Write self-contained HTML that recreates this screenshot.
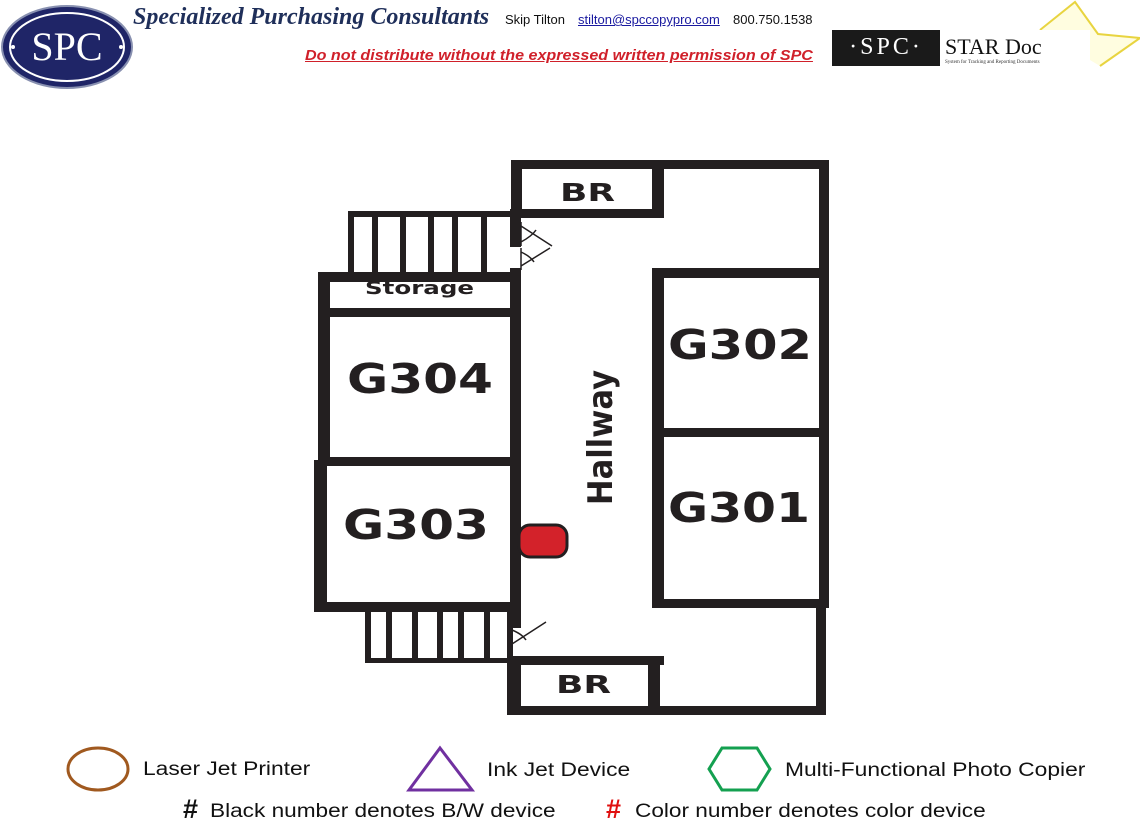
<!DOCTYPE html>
<html><head><meta charset="utf-8"><style>
body{margin:0;background:#fff;width:1140px;height:828px;overflow:hidden;position:relative;font-family:"Liberation Sans",sans-serif}
.a{position:absolute;white-space:nowrap;transform-origin:0 0}
</style></head><body>
<svg width="1140" height="828" style="position:absolute;left:0;top:0">
<ellipse cx="67" cy="47" rx="65" ry="41" fill="#1f2567" stroke="#8890b0" stroke-width="2"/>
<ellipse cx="67" cy="47" rx="57" ry="34" fill="none" stroke="#fff" stroke-width="2"/>
<text x="67" y="60" font-family="Liberation Serif" font-size="40" fill="#fff" text-anchor="middle">SPC</text>
<circle cx="13" cy="47" r="2" fill="#fff"/><circle cx="121" cy="47" r="2" fill="#fff"/>
<polyline points="1040,30 1075,2 1098,34 1140,38 1100,66" fill="#fffde0" stroke="#e8d440" stroke-width="2"/>
<rect x="832" y="30" width="108" height="36" fill="#1a1a1a"/>
<rect x="940" y="30" width="150" height="36" fill="#fff"/>
<text x="886" y="54" font-family="Liberation Serif" font-size="24" fill="#fff" text-anchor="middle" letter-spacing="3">·SPC·</text>
<text x="945" y="54" font-family="Liberation Serif" font-size="22" fill="#111">STAR Doc</text>
<text x="945" y="63" font-family="Liberation Serif" font-size="5" fill="#333">System for Tracking and Reporting Documents</text>

<g fill="#231f20">
<rect x="511" y="160" width="317" height="9"/>
<rect x="511" y="160" width="11" height="58"/>
<rect x="652" y="160" width="12" height="58"/>
<rect x="511" y="209" width="153" height="9"/>
<rect x="819" y="160" width="10" height="120"/>
<rect x="652" y="268" width="177" height="10"/>
<rect x="652" y="268" width="12" height="340"/>
<rect x="819" y="268" width="10" height="340"/>
<rect x="652" y="428" width="177" height="9"/>
<rect x="652" y="599" width="177" height="9"/>
<rect x="816" y="599" width="10" height="116"/>
<rect x="507" y="706" width="319" height="9"/>
<rect x="507" y="656" width="157" height="9"/>
<rect x="507" y="656" width="14" height="59"/>
<rect x="648" y="656" width="12" height="59"/>
<rect x="510" y="209" width="11" height="38"/>
<rect x="510" y="268" width="11" height="360"/>
<rect x="348" y="211" width="170" height="6"/>
<rect x="348" y="211" width="6" height="64"/>
<rect x="372" y="211" width="6" height="64"/><rect x="400" y="211" width="6" height="64"/>
<rect x="428" y="211" width="6" height="64"/><rect x="452" y="211" width="6" height="64"/>
<rect x="481" y="211" width="6" height="64"/>
<rect x="318" y="272" width="203" height="10"/>
<rect x="318" y="272" width="12" height="190"/>
<rect x="318" y="308" width="203" height="9"/>
<rect x="318" y="457" width="203" height="9"/>
<rect x="314" y="460" width="13" height="152"/>
<rect x="314" y="602" width="205" height="10"/>
<rect x="365" y="610" width="6" height="53"/><rect x="386" y="610" width="6" height="53"/>
<rect x="412" y="610" width="6" height="53"/><rect x="437" y="610" width="6" height="53"/>
<rect x="458" y="610" width="6" height="53"/><rect x="484" y="610" width="6" height="53"/>
<rect x="365" y="658" width="148" height="5"/>
<rect x="507" y="610" width="6" height="53"/>
</g>
<g stroke="#231f20" stroke-width="1.5" fill="none">
<path d="M521 222 V246 M521 226 L552 246 M521 242 Q532 236 536 230"/>
<path d="M521 248 V270 M521 266 L550 248 M521 252 Q530 256 534 262"/>
<path d="M512 625 V648 M512 644 L546 622 M512 630 Q522 634 526 640"/>
</g>
<rect x="519" y="525" width="48" height="32" rx="11" fill="#d3222a" stroke="#231f20" stroke-width="3"/>
<g font-family="DejaVu Sans" font-weight="bold" fill="#231f20">
<text x="560" y="201" font-size="25" textLength="55" lengthAdjust="spacingAndGlyphs">BR</text>
<text x="556" y="693" font-size="25" textLength="55" lengthAdjust="spacingAndGlyphs">BR</text>
<text x="365" y="294" font-size="18" textLength="109" lengthAdjust="spacingAndGlyphs">Storage</text>
<text x="347" y="393" font-size="41" textLength="146" lengthAdjust="spacingAndGlyphs">G304</text>
<text x="343" y="539" font-size="41" textLength="146" lengthAdjust="spacingAndGlyphs">G303</text>
<text x="668" y="359" font-size="41" textLength="144" lengthAdjust="spacingAndGlyphs">G302</text>
<text x="668" y="522" font-size="41" textLength="142" lengthAdjust="spacingAndGlyphs">G301</text>
<text transform="translate(612,505) rotate(-90)" font-size="34" textLength="135" lengthAdjust="spacingAndGlyphs">Hallway</text>
</g>
<ellipse cx="98" cy="769" rx="30" ry="21" fill="none" stroke="#a0591f" stroke-width="3"/>
<polygon points="440,748 472,790 409,790" fill="none" stroke="#7030a0" stroke-width="3"/>
<polygon points="722,748 757,748 770,769 757,790 722,790 709,769" fill="none" stroke="#14a050" stroke-width="3"/>
</svg>
<div class="a" style="left:133px;top:4px;font-family:'Liberation Serif',serif;font-style:italic;font-weight:bold;font-size:24px;color:#1f2f5a">Specialized Purchasing Consultants</div>
<div class="a" style="left:505px;top:12px;font-size:13px;color:#111">Skip Tilton</div>
<div class="a" style="left:578px;top:12px;font-size:13px;color:#1a1aa0;text-decoration:underline">stilton@spccopypro.com</div>
<div class="a" style="left:733px;top:12px;font-size:13px;color:#111">800.750.1538</div>
<div class="a" style="left:305px;top:48px;font-size:14.5px;font-style:italic;font-weight:bold;color:#d0202a;text-decoration:underline;transform:scaleX(1.11)">Do not distribute without the expressed written permission of SPC</div>
<div class="a" style="left:143px;top:759px;font-size:19px;color:#111;transform:scaleX(1.2)">Laser Jet Printer</div>
<div class="a" style="left:487px;top:760px;font-size:19px;color:#111;transform:scaleX(1.2)">Ink Jet Device</div>
<div class="a" style="left:785px;top:760px;font-size:19px;color:#111;transform:scaleX(1.2)">Multi-Functional Photo Copier</div>
<div class="a" style="left:183px;top:794px;font-size:27px;font-weight:bold;color:#111">#</div>
<div class="a" style="left:210px;top:801px;font-size:19px;color:#111;transform:scaleX(1.19)">Black number denotes B/W device</div>
<div class="a" style="left:606px;top:794px;font-size:27px;font-weight:bold;color:#e01010">#</div>
<div class="a" style="left:635px;top:801px;font-size:19px;color:#111;transform:scaleX(1.19)">Color number denotes color device</div>
</body></html>
